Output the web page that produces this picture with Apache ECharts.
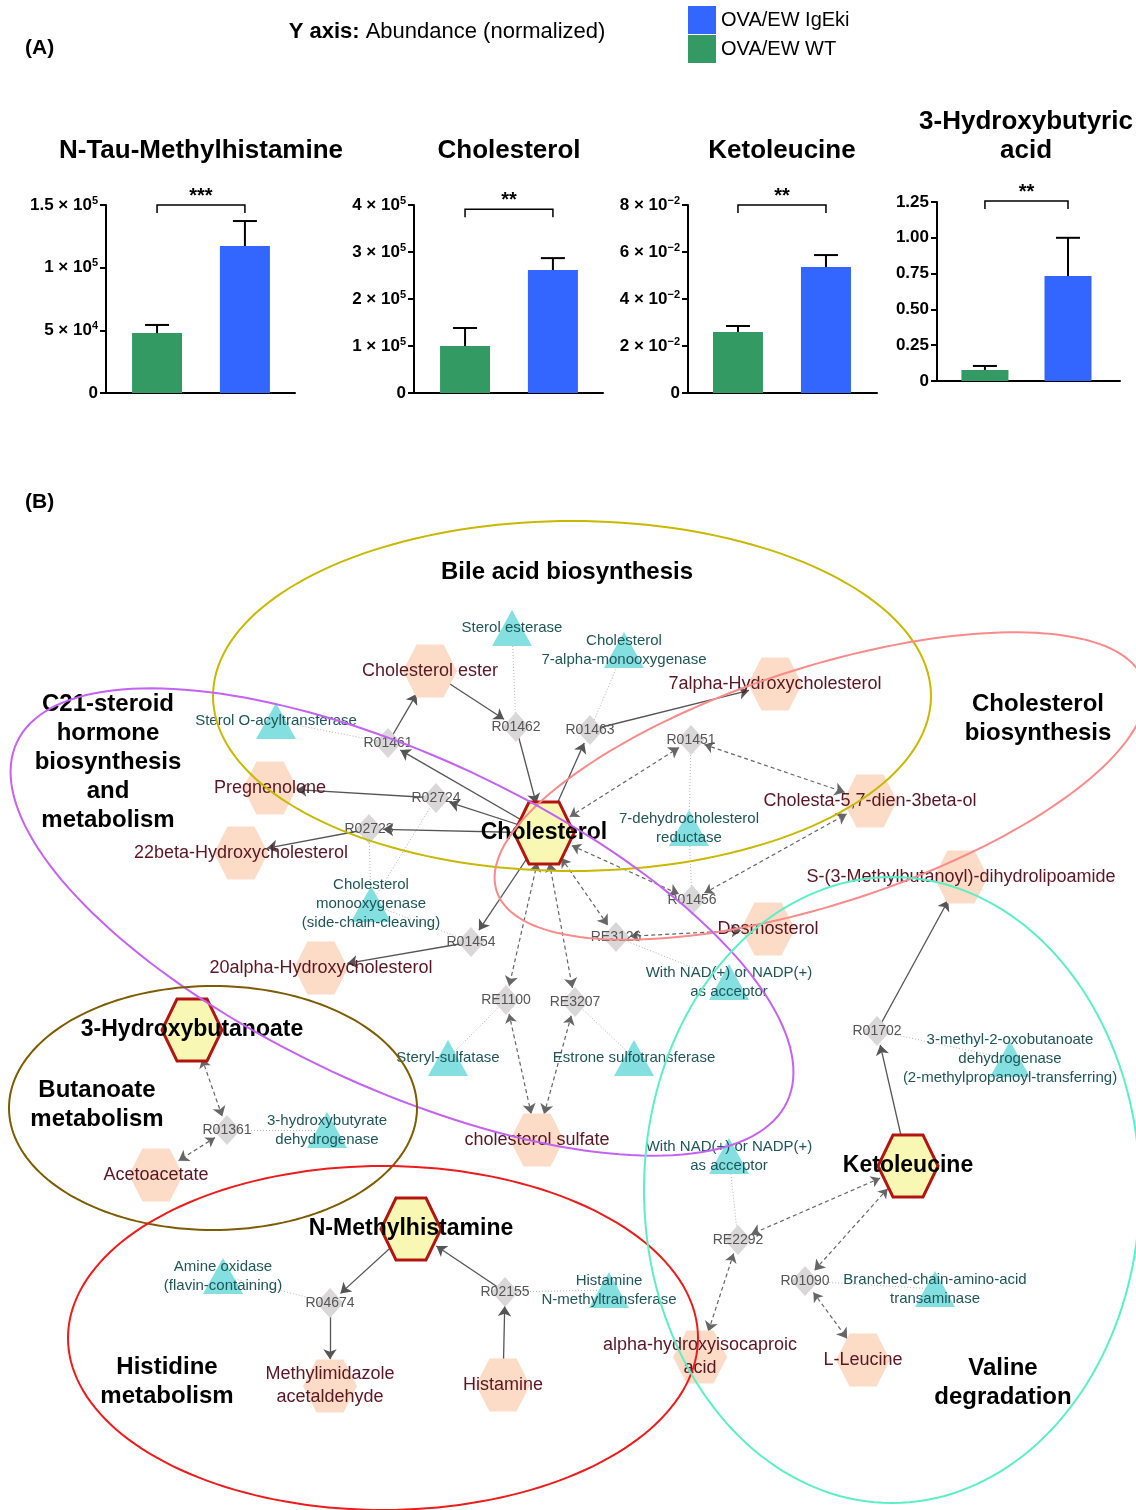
<!DOCTYPE html>
<html><head><meta charset="utf-8">
<script src="https://cdn.jsdelivr.net/npm/echarts@6/dist/echarts.min.js"></script>
<style>html,body{margin:0;padding:0;background:#fff}#chart{width:1136px;height:1510px}</style>
</head><body><div id="chart"></div>
<script>
// ================= Panel (A) data =================
const panelTitles = ['N-Tau-Methylhistamine', 'Cholesterol', 'Ketoleucine', '3-Hydroxybutyric\nacid'];
const groupNames = ['OVA/EW WT', 'OVA/EW IgEki'];
const wtMean   = [47800, 100000, 0.0260, 0.077];
const wtUpper  = [54300, 138300, 0.0285, 0.105];
const igeMean  = [117300, 261700, 0.0536, 0.733];
const igeUpper = [137200, 287000, 0.0587, 1.000];
const sigStars = ['***', '**', '**', '**'];
const sigLevel = [150000, 391000, 0.080, 1.257];
const yMax  = [150000, 400000, 0.08, 1.25];
const yStep = [50000, 100000, 0.02, 0.25];
const yTickLabels = [
  ['0', '5 × 10^4', '1 × 10^5', '1.5 × 10^5'],
  ['0', '1 × 10^5', '2 × 10^5', '3 × 10^5', '4 × 10^5'],
  ['0', '2 × 10^−2', '4 × 10^−2', '6 × 10^−2', '8 × 10^−2'],
  ['0', '0.25', '0.50', '0.75', '1.00', '1.25']
];

// ================= Panel (B) data =================
const keyMetabolites = [
  ['Cholesterol', 544, 833],
  ['3-Hydroxybutanoate', 192, 1030],
  ['N-Methylhistamine', 411, 1229],
  ['Ketoleucine', 908, 1166]
];
const metabolites = [
  ['Cholesterol ester', 430, 671],
  ['7alpha-Hydroxycholesterol', 775, 684],
  ['Pregnenolone', 270, 788],
  ['22beta-Hydroxycholesterol', 241, 853],
  ['Cholesta-5,7-dien-3beta-ol', 870, 801],
  ['S-(3-Methylbutanoyl)-dihydrolipoamide', 961, 877],
  ['Desmosterol', 768, 929],
  ['20alpha-Hydroxycholesterol', 321, 968],
  ['cholesterol sulfate', 537, 1140],
  ['Acetoacetate', 156, 1175],
  ['Methylimidazole\nacetaldehyde', 330, 1386],
  ['Histamine', 503, 1385],
  ['alpha-hydroxyisocaproic\nacid', 700, 1357],
  ['L-Leucine', 863, 1360]
];
const reactions = [
  ['R01462', 516, 727], ['R01463', 590, 730], ['R01461', 388, 743], ['R01451', 691, 740],
  ['R02724', 436, 798], ['R02723', 369, 829], ['R01456', 692, 900], ['RE3126', 616, 937],
  ['R01454', 471, 942], ['RE1100', 506, 1000], ['RE3207', 575, 1002], ['R01702', 877, 1031],
  ['R01361', 227, 1130], ['RE2292', 738, 1240], ['R04674', 330, 1303], ['R02155', 505, 1292],
  ['R01090', 805, 1281]
];
const enzymes = [
  ['E_SE',   'Sterol esterase', 512, 628],
  ['E_C7A',  'Cholesterol\n7-alpha-monooxygenase', 624, 650],
  ['E_SOAT', 'Sterol O-acyltransferase', 276, 721],
  ['E_DHCR', '7-dehydrocholesterol\nreductase', 689, 828],
  ['E_SCC',  'Cholesterol\nmonooxygenase\n(side-chain-cleaving)', 371, 904],
  ['E_NAD1', 'With NAD(+) or NADP(+)\nas acceptor', 729, 982],
  ['E_STS',  'Steryl-sulfatase', 448, 1058],
  ['E_EST',  'Estrone sulfotransferase', 634, 1058],
  ['E_BDH',  '3-hydroxybutyrate\ndehydrogenase', 327, 1130],
  ['E_BCKD', '3-methyl-2-oxobutanoate\ndehydrogenase\n(2-methylpropanoyl-transferring)', 1010, 1059],
  ['E_NAD2', 'With NAD(+) or NADP(+)\nas acceptor', 729, 1156],
  ['E_AOC',  'Amine oxidase\n(flavin-containing)', 223, 1276],
  ['E_HNMT', 'Histamine\nN-methyltransferase', 609, 1290],
  ['E_BCAT', 'Branched-chain-amino-acid\ntransaminase', 935, 1289]
];
const solidEdges = [
  ['Cholesterol ester', 'R01462'], ['R01462', 'Cholesterol'],
  ['Cholesterol', 'R01463'], ['R01463', '7alpha-Hydroxycholesterol'],
  ['Cholesterol', 'R01461'], ['R01461', 'Cholesterol ester'],
  ['Cholesterol', 'R02724'], ['R02724', 'Pregnenolone'],
  ['Cholesterol', 'R02723'], ['R02723', '22beta-Hydroxycholesterol'],
  ['Cholesterol', 'R01454'], ['R01454', '20alpha-Hydroxycholesterol'],
  ['Ketoleucine', 'R01702'], ['R01702', 'S-(3-Methylbutanoyl)-dihydrolipoamide'],
  ['N-Methylhistamine', 'R04674'], ['R04674', 'Methylimidazole\nacetaldehyde'],
  ['Histamine', 'R02155'], ['R02155', 'N-Methylhistamine']
];
const reversibleEdges = [
  ['Cholesterol', 'R01451'], ['R01451', 'Cholesta-5,7-dien-3beta-ol'],
  ['Cholesterol', 'R01456'], ['R01456', 'Cholesta-5,7-dien-3beta-ol'],
  ['Cholesterol', 'RE3126'], ['RE3126', 'Desmosterol'],
  ['Cholesterol', 'RE1100'], ['RE1100', 'cholesterol sulfate'],
  ['Cholesterol', 'RE3207'], ['RE3207', 'cholesterol sulfate'],
  ['3-Hydroxybutanoate', 'R01361'], ['R01361', 'Acetoacetate'],
  ['Ketoleucine', 'RE2292'], ['RE2292', 'alpha-hydroxyisocaproic\nacid'],
  ['Ketoleucine', 'R01090'], ['R01090', 'L-Leucine']
];
const enzymeEdges = [
  ['E_SE', 'R01462'], ['E_C7A', 'R01463'], ['E_SOAT', 'R01461'],
  ['E_DHCR', 'R01451'], ['E_DHCR', 'R01456'],
  ['E_SCC', 'R02723'], ['E_SCC', 'R02724'], ['E_SCC', 'R01454'],
  ['E_NAD1', 'RE3126'], ['E_STS', 'RE1100'], ['E_EST', 'RE3207'],
  ['E_BDH', 'R01361'], ['E_BCKD', 'R01702'], ['E_NAD2', 'RE2292'],
  ['E_AOC', 'R04674'], ['E_HNMT', 'R02155'], ['E_BCAT', 'R01090']
];
// pathway outlines: [centerX, centerY, radiusX, radiusY, rotation(deg, ccw)]
const pathwayNames = ['Bile acid biosynthesis', 'Cholesterol\nbiosynthesis',
  'C21-steroid\nhormone\nbiosynthesis\nand\nmetabolism', 'Butanoate\nmetabolism',
  'Histidine\nmetabolism', 'Valine\ndegradation'];
const pathwayOutlines = [
  [572, 696, 359, 175, 0],
  [820, 786, 340, 118, 18],
  [402, 922, 425, 165, -25],
  [213, 1108, 204, 122, 0],
  [383, 1338, 315, 172, 0],
  [892, 1190, 248, 313, 0]
];

// ================= layout & style (not data) =================
const FONT = '"Liberation Sans", Arial, sans-serif';
const GREEN = '#349a64', BLUE = '#3366ff';
const panelGrids = [
  {left: 106, top: 205, width: 189, height: 188},
  {left: 414, top: 205, width: 189, height: 188},
  {left: 688, top: 205, width: 189, height: 188},
  {left: 937, top: 202, width: 183, height: 179}
];
const panelXRange = [[-0.581, 1.570], [-0.581, 1.570], [-0.568, 1.580], [-0.577, 1.626]];
const panelBarW = [50, 50, 50, 47];
const panelTitlePos = [[201, 151], [509, 151], [782, 151], [1026, 136]];
const pathwayLabelPos = [[567, 572], [1038, 719], [108, 762], [97, 1105], [167, 1382], [1003, 1383]];
const pathwayColors = ['#c9b800', '#f98b8b', '#c462f3', '#7d5c00', '#ec1c1c', '#5cefc6'];

const HEX = 'path://M25,0L75,0L100,50L75,100L25,100L0,50Z';
const TRI = 'path://M50,0L100,100L0,100Z';
const nodeStyle = {
  key: {symbol: HEX, symbolSize: [60, 62], itemStyle: {color: '#f8f8b4', borderColor: '#b3140f', borderWidth: 3},
        label: {fontSize: 23, fontWeight: 'bold', color: '#000'}},
  met: {symbol: HEX, symbolSize: [54, 53], itemStyle: {color: '#fcdcc7'},
        label: {fontSize: 18, color: '#5a1622', lineHeight: 23}},
  rxn: {symbol: 'diamond', symbolSize: [27, 30], itemStyle: {color: '#d9d7d7'},
        label: {fontSize: 14, color: '#555'}},
  enz: {symbol: TRI, symbolSize: [40, 36], itemStyle: {color: '#84e0e0'},
        label: {fontSize: 15, color: '#1f5558', lineHeight: 19}}
};
const edgeStyle = {
  solid: {lineStyle: {color: '#555', width: 1.3, type: 'solid', opacity: 1}, symbol: ['none', 'arrow']},
  dashed: {lineStyle: {color: '#666', width: 1.2, type: [4, 3], opacity: 1}, symbol: ['arrow', 'arrow']},
  dotted: {lineStyle: {color: '#b5b5b5', width: 1, type: [1, 2], opacity: 1}, symbol: ['none', 'none']}
};

function fmtTick(s) {
  if (s === undefined) return '';
  if (s.indexOf('^') >= 0) {
    const p = s.split('^');
    return '{b|' + p[0] + '}{s|' + p[1] + '}';
  }
  return '{b|' + s + '}';
}

const grid = [], xAxis = [], yAxis = [], series = [];
panelGrids.forEach((g, i) => {
  grid.push(Object.assign({containLabel: false}, g));
  xAxis.push({gridIndex: i, type: 'value', min: panelXRange[i][0], max: panelXRange[i][1],
    axisLine: {show: true, onZero: false, lineStyle: {color: '#000', width: 2}},
    axisTick: {show: false}, axisLabel: {show: false}, splitLine: {show: false}});
  yAxis.push({gridIndex: i, type: 'value', min: 0, max: yMax[i], interval: yStep[i],
    axisLine: {show: true, onZero: false, lineStyle: {color: '#000', width: 2}},
    axisTick: {show: true, length: 6, lineStyle: {color: '#000', width: 2}},
    splitLine: {show: false},
    axisLabel: {margin: 8, formatter: (v, idx) => fmtTick(yTickLabels[i][idx]),
      rich: {b: {fontSize: 17, fontWeight: 'bold', color: '#000', fontFamily: FONT, lineHeight: 20},
             s: {fontSize: 11, fontWeight: 'bold', color: '#000', fontFamily: FONT, verticalAlign: 'top'}}}});
  series.push({type: 'bar', name: groupNames[0], xAxisIndex: i, yAxisIndex: i, data: [[0, wtMean[i]]],
    barWidth: panelBarW[i], barGap: '-100%', itemStyle: {color: GREEN}, silent: true});
  series.push({type: 'bar', name: groupNames[1], xAxisIndex: i, yAxisIndex: i, data: [[1, igeMean[i]]],
    barWidth: panelBarW[i], barGap: '-100%', itemStyle: {color: BLUE}, silent: true});
  series.push({type: 'custom', xAxisIndex: i, yAxisIndex: i, z: 3, silent: true,
    data: [[0, wtMean[i], wtUpper[i]], [1, igeMean[i], igeUpper[i]]],
    renderItem: (params, api) => {
      const p0 = api.coord([api.value(0), api.value(1)]);
      const p1 = api.coord([api.value(0), api.value(2)]);
      const cap = 12;
      return {type: 'group', children: [
        {type: 'line', shape: {x1: p0[0], y1: p0[1], x2: p1[0], y2: p1[1]}, style: {stroke: '#000', lineWidth: 2}},
        {type: 'line', shape: {x1: p1[0] - cap, y1: p1[1], x2: p1[0] + cap, y2: p1[1]}, style: {stroke: '#000', lineWidth: 2}}
      ]};
    }});
  series.push({type: 'custom', xAxisIndex: i, yAxisIndex: i, z: 3, silent: true, clip: false,
    data: [[0, sigLevel[i], 1]],
    renderItem: (params, api) => {
      const a = api.coord([api.value(0), api.value(1)]);
      const b = api.coord([api.value(2), api.value(1)]);
      return {type: 'group', children: [
        {type: 'polyline', shape: {points: [[a[0], a[1] + 8], [a[0], a[1]], [b[0], b[1]], [b[0], b[1] + 8]]},
          style: {stroke: '#000', lineWidth: 1.5, fill: null}},
        {type: 'text', style: {text: sigStars[i], x: (a[0] + b[0]) / 2, y: a[1] + 1, align: 'center',
          verticalAlign: 'bottom', fontSize: 20, fontWeight: 'bold', fontFamily: FONT, fill: '#000'}}
      ]};
    }});
});

// Network coordinate system: 1 data unit = 1 pixel
grid.push({left: 0, top: 0, width: 1136, height: 1510, containLabel: false});
xAxis.push({gridIndex: 4, type: 'value', min: 0, max: 1136, show: false});
yAxis.push({gridIndex: 4, type: 'value', min: 0, max: 1510, inverse: true, show: false});

const nodes = [];
function addNode(name, x, y, kind, text) {
  const st = nodeStyle[kind];
  const lab = Object.assign({show: true, position: 'inside', fontFamily: FONT}, st.label);
  if (text) lab.formatter = text;
  nodes.push({name: name, value: [x, y], symbol: st.symbol, symbolSize: st.symbolSize,
    itemStyle: st.itemStyle, label: lab});
}
metabolites.forEach(m => addNode(m[0], m[1], m[2], 'met'));
reactions.forEach(r => addNode(r[0], r[1], r[2], 'rxn'));
enzymes.forEach(e => addNode(e[0], e[2], e[3], 'enz', e[1]));
keyMetabolites.forEach(k => addNode(k[0], k[1], k[2], 'key'));

const links = [];
function addLinks(list, kind) {
  list.forEach(l => links.push({source: l[0], target: l[1],
    lineStyle: edgeStyle[kind].lineStyle, symbol: edgeStyle[kind].symbol}));
}
addLinks(enzymeEdges, 'dotted');
addLinks(solidEdges, 'solid');
addLinks(reversibleEdges, 'dashed');

series.push({type: 'graph', coordinateSystem: 'cartesian2d', xAxisIndex: 4, yAxisIndex: 4,
  layout: 'none', roam: false, silent: true, z: 2,
  edgeSymbolSize: [9, 10], lineStyle: {opacity: 1},
  emphasis: {disabled: true},
  data: nodes, links: links});

series.push({type: 'custom', xAxisIndex: 4, yAxisIndex: 4, z: 4, silent: true, clip: false,
  data: pathwayOutlines,
  renderItem: (params, api) => {
    const cx = api.value(0), cy = api.value(1), rx = api.value(2), ry = api.value(3);
    const th = api.value(4) * Math.PI / 180;
    const pts = [];
    for (let k = 0; k <= 180; k++) {
      const t = 2 * Math.PI * k / 180;
      const u = rx * Math.cos(t), v = ry * Math.sin(t);
      const px = cx + u * Math.cos(th) + v * Math.sin(th);
      const py = cy - u * Math.sin(th) + v * Math.cos(th);
      pts.push(api.coord([px, py]));
    }
    return {type: 'polygon', shape: {points: pts},
      style: {fill: null, stroke: pathwayColors[params.dataIndex], lineWidth: 2}};
  }});

const graphicEls = [
  {type: 'text', x: 25, y: 48, style: {text: '(A)', align: 'left', verticalAlign: 'middle',
    font: 'bold 21px ' + FONT, fill: '#000'}},
  {type: 'text', x: 25, y: 502, style: {text: '(B)', align: 'left', verticalAlign: 'middle',
    font: 'bold 21px ' + FONT, fill: '#000'}},
  {type: 'text', x: 447, y: 32, style: {text: '{b|Y axis:} Abundance (normalized)', align: 'center',
    verticalAlign: 'middle', font: '22px ' + FONT, fill: '#000',
    rich: {b: {fontWeight: 'bold', fontSize: 22, fontFamily: FONT}}}}
];
panelTitles.forEach((t, i) => graphicEls.push({type: 'text', x: panelTitlePos[i][0], y: panelTitlePos[i][1],
  style: {text: t, align: 'center', verticalAlign: 'middle', font: 'bold 26px ' + FONT, lineHeight: 29, fill: '#000'}}));
pathwayNames.forEach((t, i) => graphicEls.push({type: 'text', x: pathwayLabelPos[i][0], y: pathwayLabelPos[i][1],
  style: {text: t, align: 'center', verticalAlign: 'middle', font: 'bold 24px ' + FONT, lineHeight: 29, fill: '#000'}}));

const chart = echarts.init(document.getElementById('chart'), null, {renderer: 'canvas'});
chart.setOption({
  animation: false,
  backgroundColor: '#fff',
  textStyle: {fontFamily: FONT},
  legend: {left: 688, top: 6, padding: 0, orient: 'vertical', itemWidth: 28, itemHeight: 28, itemGap: 1,
    icon: 'rect', selectedMode: false, textStyle: {fontSize: 20, color: '#000', fontFamily: FONT},
    data: [groupNames[1], groupNames[0]]},
  grid: grid, xAxis: xAxis, yAxis: yAxis, series: series,
  graphic: {elements: graphicEls}
});
</script></body></html>
